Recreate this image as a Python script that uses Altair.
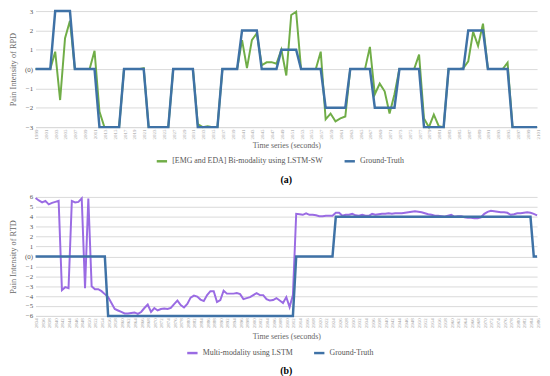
import altair as alt
import pandas as pd

FONT = "Liberation Serif"
GREEN = "#70AD47"
BLUE = "#3F72A6"
PURPLE = "#9A6BE3"
GRID = "#D9D9D9"
TXT = "#666666"

# ---- panel (a) ----
top_labels = [str(1999 + i) for i in range(103)]
top_pred = [0, 0, 0, 0, 0.9, -1.6, 1.6, 2.5, 0, 0,
            0, 0, 0.95, -2.2, -3, -3, -3, -3, 0, 0,
            0, 0, 0.05, -3, -3, -3, -3, -3, 0, 0,
            0, 0, 0, -2.85, -3, -2.95, -3, -3, 0, 0,
            0, 0, 1.5, 0.05, 1.5, 1.85, 0.2, 0.35, 0.36, 0.28,
            1.0, -0.33, 2.8, 2.97, 0, 0, 0, 0, 0.9, -2.6,
            -2.3, -2.7, -2.55, -2.45, 0, 0, 0, 0, 1.15, -1.3,
            -0.75, -1.15, -2.3, -1.3, 0, 0, 0, 0, 0.75, -2.55,
            -3, -2.35, -2.95, -3, 0, 0, 0, 0.05, 0.4, 1.93,
            1.2, 2.35, 0, 0, 0, 0, 0.33, -3, -3, -3,
            -3, -3, -3]
top_gt = ([0] * 4 + [3] * 4 + [0] * 5 + [-3] * 5 + [0] * 5 + [-3] * 5 + [0] * 5 + [-3] * 5
          + [0] * 4 + [2] * 4 + [0] * 4 + [1] * 4 + [0] * 5 + [-2] * 5 + [0] * 5 + [-2] * 5
          + [0] * 5 + [-3] * 5 + [0] * 4 + [2] * 4 + [0] * 5 + [-3] * 6)

# ---- panel (b) ----
bot_labels = [str(2834 + i) for i in range(153)]
bot_pred = [5.9, 5.65, 5.45, 5.6, 5.25, 5.4, 5.5, 5.6, -3.4, -3.1,
            -3.2, 5.6, 5.45, 5.5, 5.85, -3.2, 5.85, -3.0, -3.3, -3.3,
            -3.5, -3.8, -4.1, -4.7, -5.3, -5.45, -5.6, -5.75, -5.75, -5.7,
            -5.65, -5.8, -5.6, -5.2, -4.85, -5.6, -5.2, -5.45, -5.3, -5.25,
            -5.3, -5.2, -4.8, -4.45, -4.9, -5.15, -4.8, -4.15, -3.95, -4.05,
            -4.35, -4.5, -3.9, -3.5, -3.5, -4.6, -4.4, -3.45, -3.75, -3.75,
            -3.75, -3.7, -3.8, -4.3, -4.2, -4.1, -3.9, -3.7, -3.9, -3.9,
            -4.3, -4.45, -4.4, -4.2, -4.45, -4.7, -4.1, -5.1, -3.9, 4.3,
            4.25, 4.2, 4.35, 4.2, 4.2, 4.15, 4.05, 4.05, 4.1, 4.1,
            4.1, 4.4, 4.4, 4.1, 4.2, 4.2, 4.3, 4.15, 4.1, 4.2,
            4.1, 4.1, 4.3, 4.2, 4.25, 4.3, 4.3, 4.35, 4.3, 4.35,
            4.35, 4.35, 4.4, 4.45, 4.5, 4.55, 4.5, 4.45, 4.35, 4.25,
            4.2, 4.1, 4.1, 4.05, 4.0, 4.1, 4.2, 4.0, 4.05, 4.05,
            3.95, 3.9, 3.9, 3.85, 3.85, 3.95, 4.3, 4.5, 4.6, 4.55,
            4.5, 4.45, 4.45, 4.4, 4.2, 4.25, 4.35, 4.35, 4.4, 4.45,
            4.4, 4.3, 4.15]
bot_gt = [0] * 22 + [-6] * 57 + [0] * 12 + [4] * 60 + [0] * 2


def panel(labels, pred, gt, pred_name, pred_color, ytitle, ymin, ymax, caption,
          lx, ly, height, tpad, cap_off):
    df = pd.DataFrame({
        "t": labels + labels,
        "v": pred + gt,
        "s": [pred_name] * len(pred) + ["Ground-Truth"] * len(gt),
    })
    color = alt.Color(
        "s:N",
        scale=alt.Scale(domain=[pred_name, "Ground-Truth"], range=[pred_color, BLUE]),
        legend=alt.Legend(title=None, orient="none", legendX=lx, legendY=ly,
                          direction="horizontal",
                          symbolType="stroke", symbolStrokeWidth=2.5, symbolSize=110,
                          labelFont=FONT, labelFontSize=8, labelColor="#555555",
                          columnPadding=16, padding=0),
    )
    x = alt.X("t:O", sort=labels, scale=alt.Scale(padding=0),
              axis=alt.Axis(title="Time series (seconds)", titleFont=FONT, titleFontSize=8,
                            titleFontWeight="normal", titleColor=TXT, titlePadding=tpad,
                            labelAngle=270, labelFontSize=5, labelFont=FONT, labelColor="#999999",
                            labelPadding=2, values=labels[::2], ticks=False, grid=False,
                            domainColor=GRID, labelOverlap=False))
    y = alt.Y("v:Q", scale=alt.Scale(domain=[ymin, ymax], nice=False),
              axis=alt.Axis(title=ytitle, titleFont=FONT, titleFontSize=8.5, titleFontWeight="normal",
                            titleColor=TXT, titlePadding=7, labelFont=FONT, labelFontSize=7,
                            labelColor="#555555", values=list(range(ymin, ymax + 1)),
                            labelExpr="datum.value == 0 ? '(0)' : datum.label",
                            ticks=False, domain=False, gridColor=GRID, labelPadding=3))
    base = alt.Chart(df).encode(x=x, y=y, color=color, order=alt.Order("t:O"))
    p = base.transform_filter(alt.datum.s == pred_name).mark_line(strokeWidth=2)
    g = base.transform_filter(alt.datum.s == "Ground-Truth").mark_line(strokeWidth=2.5)
    return alt.layer(p, g).properties(
        width=510, height=height,
        title=alt.TitleParams(caption, orient="bottom", font=FONT, fontSize=10,
                              fontWeight="bold", color="#000000", offset=cap_off),
    )


top = panel(top_labels, top_pred, top_gt, "[EMG and EDA] Bi-modality using LSTM-SW", GREEN,
            "Pain Intensity of RPD", -3, 3, "(a)", 122, 146, 118, 3, 9)
bot = panel(bot_labels, bot_pred, bot_gt, "Multi-modality using LSTM", PURPLE,
            "Pain Intensity of RTD", -6, 6, "(b)", 153, 152, 121, 5, 8)

chart = (alt.vconcat(top, bot, spacing=8)
         .resolve_scale(color="independent")
         .configure_view(stroke=None)
         .properties(padding={"left": 0, "top": -5, "right": 0, "bottom": 0}))

chart.save("out.html", embed_options={"renderer": "svg", "actions": False})
